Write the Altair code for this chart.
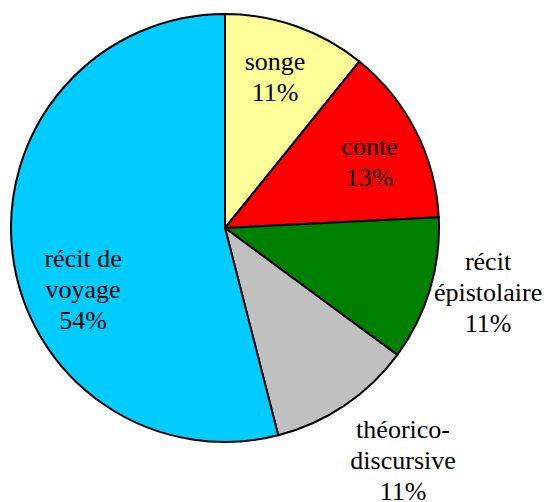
import altair as alt
import pandas as pd

categories = ["songe", "conte", "récit épistolaire", "théorico-discursive", "récit de voyage"]
values = [10.8, 13.4, 10.9, 10.9, 54.0]
labels = ["songe\n11%", "conte\n13%", "récit\népistolaire\n11%", "théorico-\ndiscursive\n11%", "récit de\nvoyage\n54%"]
colors = ["#FFFF99", "#FF0000", "#008000", "#C0C0C0", "#00CCFF"]

# label layout (pixel distance from pie centre, angular shift in degrees)
label_radius = [159, 159, 271, 293, 155]
label_shift = [-1.1, 2.5, -2.8, -3.4, -16.5]

CX, CY, R = 217, 220, 214
LH = 31

df = pd.DataFrame({
    "cat": categories,
    "val": values,
    "label": labels,
    "idx": list(range(len(categories))),
    "lr": label_radius,
    "ls": label_shift,
})

base = alt.Chart(df)

pie = base.mark_arc(stroke="black", strokeWidth=2, radius=R).encode(
    theta=alt.Theta("val:Q", stack=True),
    color=alt.Color("cat:N", scale=alt.Scale(domain=categories, range=colors), legend=None),
    order=alt.Order("idx:Q"),
    x=alt.value(CX),
    y=alt.value(CY),
)

text = base.transform_joinaggregate(
    total="sum(val)"
).transform_window(
    cum="sum(val)", sort=[alt.SortField("idx")], frame=[None, 0]
).transform_calculate(
    ang="2*PI*(datum.cum - datum.val/2)/datum.total + datum.ls*PI/180",
    nl="length(split(datum.label, '\\n'))",
).transform_calculate(
    px=f"{CX} + datum.lr*sin(datum.ang)",
    py=f"{CY} - datum.lr*cos(datum.ang) - (datum.nl - 1)*{LH}/2",
).mark_text(
    align="center", baseline="middle", color="black", lineBreak="\n"
).encode(
    x=alt.X("px:Q", scale=None),
    y=alt.Y("py:Q", scale=None),
    text="label:N",
)

chart = alt.layer(pie, text).properties(
    width=536, height=494, autosize="none", padding=0
).configure_view(stroke=None).configure_text(
    font="Liberation Serif", fontSize=26, lineHeight=LH
)

chart.save("out.html", embed_options={"renderer": "svg", "actions": False})
